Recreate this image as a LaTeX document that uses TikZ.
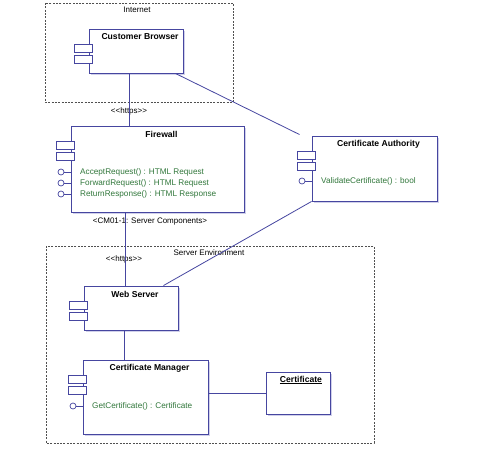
\documentclass[tikz,border=0pt]{standalone}
\usepackage{fontspec}
\setmainfont{Liberation Sans}
\usetikzlibrary{calc}
\definecolor{umlline}{RGB}{70,70,160}
\definecolor{umlgreen}{RGB}{50,120,60}
\definecolor{umlshadow}{RGB}{208,208,234}
\definecolor{framegray}{RGB}{80,80,80}
\newcommand{\umlcomp}[6]{% name, x1, y1, x2, y2, title
  \fill[umlshadow] (#2+2,#3+2) rectangle (#4+2,#5+2);
  \node[compbox, minimum width={#4-#2}, minimum height={#5-#3}] (#1) at ({(#2+#4)/2},{(#3+#5)/2}) {};
  \node[tabbox] (#1-tabA) at (#2-6,#3+19) {};
  \node[tabbox] (#1-tabB) at (#2-6,#3+30) {};
  \node[titletext] (#1-title) at ({(#2+#4)/2+4},#3+8) {#6};
}
\newcommand{\lolli}[4]{% name, box left x, y, text
  \node[lollic] (#1-c) at (#2-10,#3) {};
  \draw[umlline, line width=0.8pt] (#1-c.east) -- (#2,#3);
  \node[optext] (#1-t) at (#2+9,#3) {#4};
}
\begin{document}
\begin{tikzpicture}[x=1pt,y=-1pt,
  compbox/.style={draw=umlline, line width=0.9pt, fill=white, rectangle, inner sep=0pt},
  tabbox/.style={draw=umlline, line width=0.8pt, fill=white, rectangle, inner sep=0pt, minimum width=18pt, minimum height=8pt},
  titletext/.style={font=\fontsize{8.6}{10}\selectfont\bfseries, inner sep=0pt},
  optext/.style={font=\fontsize{8.2}{10}\selectfont, text=umlgreen, anchor=west, inner sep=0pt},
  lollic/.style={draw=umlline, line width=0.7pt, fill=white, circle, inner sep=0pt, minimum size=6pt},
  plaintext/.style={font=\fontsize{8}{10}\selectfont, inner sep=0pt},
  conn/.style={draw=umlline, line width=0.8pt},
  framebox/.style={draw=framegray, line width=0.8pt, dash pattern=on 2pt off 1.3pt}
]
\useasboundingbox[fill=white] (0,0) rectangle (477,448);

% frames
\draw[framebox] (45,3) rectangle (233,102);
\node[plaintext] (internet) at (137,10) {Internet};
\draw[framebox] (46,246) rectangle (374,443);
\node[plaintext] (serverenv) at (209,253) {Server Environment};

% components
\umlcomp{cb}{89}{29}{183}{73}{Customer Browser}
\umlcomp{fw}{71}{126}{244}{212}{Firewall}
\lolli{fw1}{71}{172}{AcceptRequest() : HTML Request}
\lolli{fw2}{71}{183}{ForwardRequest() : HTML Request}
\lolli{fw3}{71}{194}{ReturnResponse() : HTML Response}
\umlcomp{ca}{312}{136}{437}{201}{Certificate Authority}
\lolli{ca1}{312}{181}{ValidateCertificate() : bool}
\umlcomp{ws}{84}{286}{178}{330}{Web Server}
\umlcomp{cm}{83}{360}{208}{434}{Certificate Manager}
\lolli{cm1}{83}{406}{GetCertificate() : Certificate}

% certificate (object)
\fill[umlshadow] (268,374) rectangle (332,416);
\node[compbox, minimum width=64pt, minimum height=42pt] (cert) at (298,393) {};
\node[titletext] (cert-title) at (301,380) {\underline{Certificate}};

% labels
\node[plaintext] (https1) at (129,111) {<{}<https>{}>};
\node[plaintext] (cmlabel) at (150,222) {<CM01-1: Server Components>};
\node[plaintext] (https2) at (124,259) {<{}<https>{}>};

% connectors
\coordinate (xa) at (129,0);
\coordinate (xb) at (125,0);
\coordinate (xc) at (124,0);
\draw[conn] (cb.south -| xa) -- (fw.north -| xa);
\draw[conn] (fw.south -| xb) -- (ws.north -| xb);
\draw[conn] (ws.south -| xc) -- (cm.north -| xc);
\draw[conn] ($(cb.south east)+(-8,0)$) -- ($(ca.north west)+(-12,-1)$);
\draw[conn] (ca.south west) -- ($(ws.north east)+(-15,0)$);
\draw[conn] (cert.west -| cm.east) -- (cert.west);
\end{tikzpicture}
\end{document}
